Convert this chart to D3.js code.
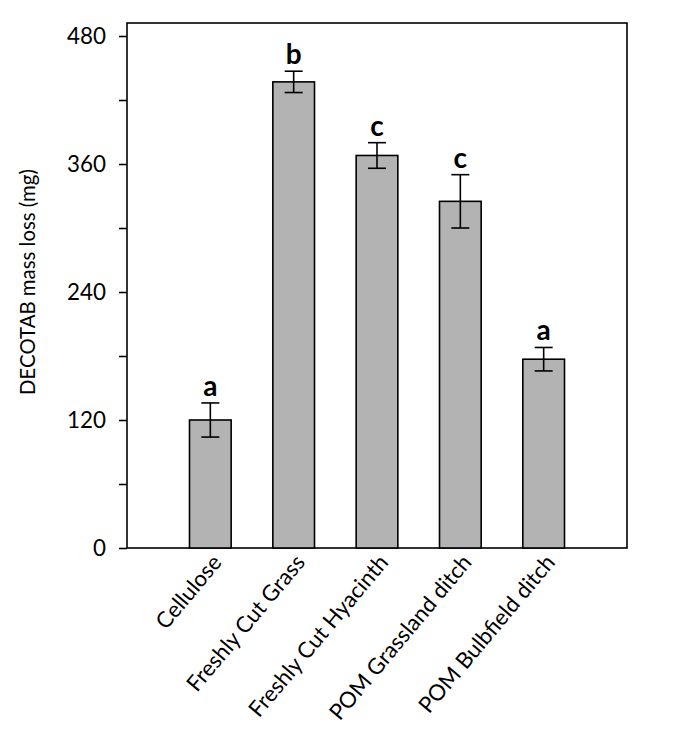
<!DOCTYPE html>
<html><head><meta charset="utf-8">
<script src="https://cdn.jsdelivr.net/npm/d3@7"></script>
<style>body{margin:0;background:#fff}</style>
</head><body>
<svg id="c" width="675" height="756"></svg>
<script>
const categories = ["Cellulose","Freshly Cut Grass","Freshly Cut Hyacinth","POM Grassland ditch","POM Bulbfield ditch"];
const values = [120, 437, 368, 325, 177];
const errors = [16, 10, 12, 25, 11];
const letters = ["a","b","c","c","a"];
const yTicks = [0,60,120,180,240,300,360,420,480];
const yTickLabels = ["0","","120","","240","","360","","480"];
const yTitle = "DECOTAB mass loss (mg)";

const svg = d3.select("#c");
const L=127, R=627, T=23, B=548;
const font = "Lato, sans-serif";

function fitSize(text, target, weight){
  const t = svg.append("text").attr("font-family",font).attr("font-size",100)
    .attr("font-weight",weight||"normal").text(text);
  const len = t.node().getComputedTextLength();
  t.remove();
  return 100*target/len;
}

function draw(){
  svg.selectAll("*").remove();
  const tickFs = fitSize("480", 39);
  const catFs = fitSize("POM Bulbfield ditch", 198);
  const titleFs = fitSize(yTitle, 226);

  const x = d3.scalePoint().domain(categories).range([L,R]).padding(1);
  const y = d3.scaleLinear().domain([0,492.2]).range([B,T]);
  const bw = x.step()*0.5;

  svg.append("rect").attr("x",L).attr("y",T).attr("width",R-L).attr("height",B-T)
    .attr("fill","none").attr("stroke","#000").attr("stroke-width",1.6);

  const yAxis = d3.axisLeft(y).tickValues(yTicks).tickSize(8).tickPadding(13)
    .tickFormat((d,i)=>yTickLabels[i]);
  const ga = svg.append("g").attr("transform",`translate(${L},0)`).call(yAxis);
  ga.select(".domain").remove();
  ga.selectAll("line").attr("stroke","#000").attr("stroke-width",1.6);
  ga.selectAll("text").attr("font-family",font).attr("font-size",tickFs).attr("fill","#000");

  const xAxis = d3.axisBottom(x).tickSize(0).tickPadding(0);
  const gx = svg.append("g").attr("transform",`translate(0,${B})`).call(xAxis);
  gx.select(".domain").remove();
  gx.selectAll("text").attr("font-family",font).attr("font-size",catFs).attr("fill","#000")
    .attr("text-anchor","end").attr("dy",0).attr("y",0)
    .attr("transform","translate(12,15) rotate(-50)");

  svg.append("g").selectAll("rect").data(categories).join("rect")
    .attr("x",d=>x(d)-bw/2).attr("width",bw)
    .attr("y",(d,i)=>y(values[i])).attr("height",(d,i)=>B-y(values[i]))
    .attr("fill","#b3b3b3").attr("stroke","#000").attr("stroke-width",1.6);

  const eg = svg.append("g").attr("stroke","#000").attr("stroke-width",1.6);
  categories.forEach((c,i)=>{
    const cx=x(c), hi=y(values[i]+errors[i]), lo=y(values[i]-errors[i]);
    eg.append("line").attr("x1",cx).attr("x2",cx).attr("y1",hi).attr("y2",lo);
    eg.append("line").attr("x1",cx-9).attr("x2",cx+9).attr("y1",hi).attr("y2",hi);
    eg.append("line").attr("x1",cx-9).attr("x2",cx+9).attr("y1",lo).attr("y2",lo);
  });

  svg.append("g").selectAll("text").data(categories).join("text")
    .attr("x",d=>x(d)).attr("y",(d,i)=>y(values[i]+errors[i])-7)
    .attr("text-anchor","middle").attr("font-family",font).attr("font-weight","bold")
    .attr("font-size",28).text((d,i)=>letters[i]);

  svg.append("text").attr("transform",`translate(35,282) rotate(-90)`)
    .attr("text-anchor","middle").attr("font-family",font).attr("font-size",titleFs)
    .text(yTitle);
}
draw();
if (document.fonts && document.fonts.load) {
  Promise.all([document.fonts.load("20px Lato"), document.fonts.load("bold 20px Lato")])
    .then(draw).catch(()=>{});
}
</script>
</body></html>
